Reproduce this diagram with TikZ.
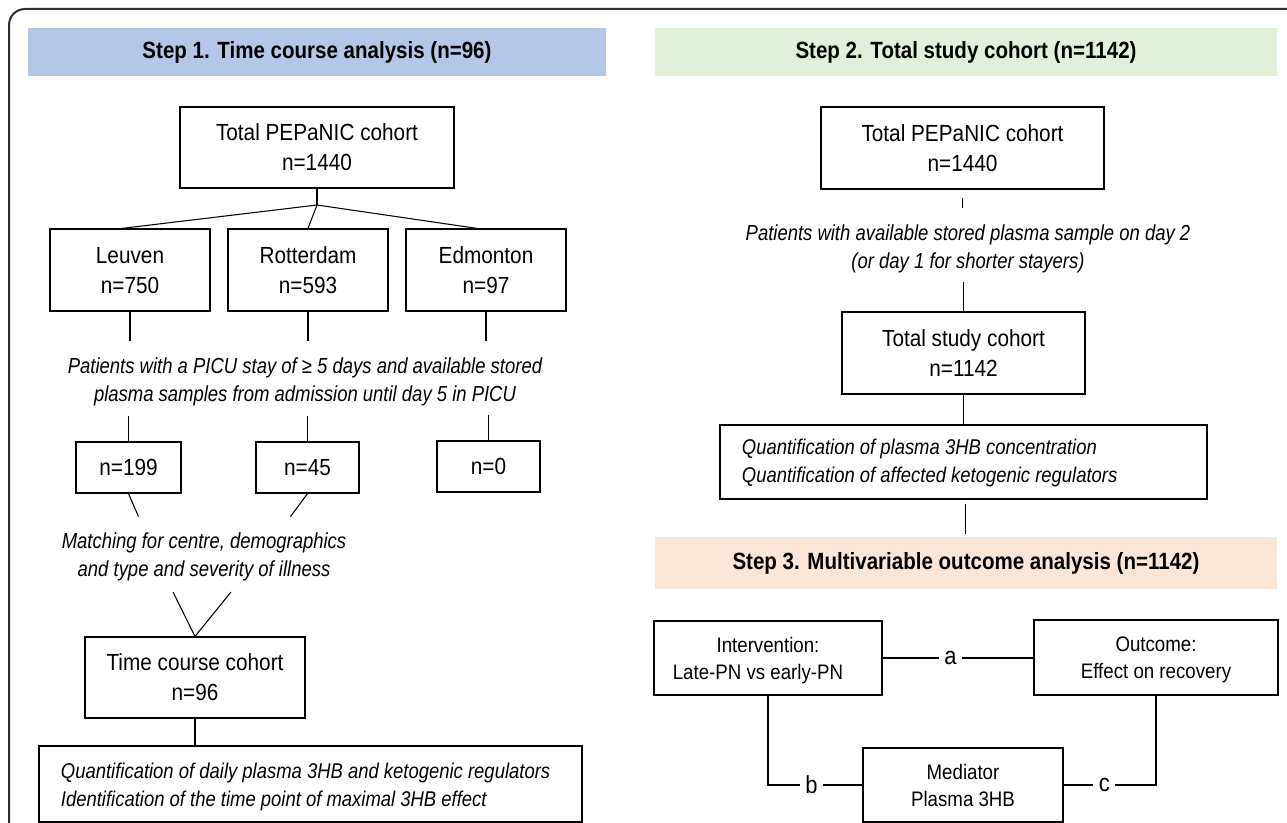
\documentclass[tikz,border=0pt]{standalone}
\usepackage{fontspec}
\setmainfont{Liberation Sans}[FakeStretch=0.89]
\newfontfamily\hdrfont{Liberation Sans}[FakeStretch=0.875]
\newfontfamily\critfont{Liberation Sans}[FakeStretch=0.85]
\newfontfamily\quantfont{Liberation Sans}[FakeStretch=0.865]
\usetikzlibrary{calc}
\definecolor{hblue}{RGB}{180,199,231}
\definecolor{hgreen}{RGB}{226,240,217}
\definecolor{hpeach}{RGB}{251,229,214}
\definecolor{framec}{RGB}{45,45,45}
\begin{document}
\begin{tikzpicture}[x=0.75pt,y=-0.75pt,
  line width=0.8pt,
  box/.style={draw, line width=0.9pt, inner sep=0pt, align=center, text depth=0pt,
    font=\fontsize{17.5pt}{22.5pt}\selectfont},
  boxc/.style={box, font=\fontsize{15.75pt}{20.25pt}\selectfont},
  hdr/.style={inner sep=0pt, font=\hdrfont\bfseries\fontsize{17.6pt}{20pt}\selectfont},
  crit/.style={inner sep=0pt, align=center, font=\critfont\itshape\fontsize{16.3pt}{21pt}\selectfont},
  qbox/.style={draw, line width=0.9pt, inner sep=0pt},
  qtext/.style={inner sep=0pt, align=left, anchor=west,
    font=\quantfont\itshape\fontsize{16pt}{21pt}\selectfont},
  lbl/.style={fill=white, inner xsep=4pt, inner ysep=1pt,
    font=\fontsize{18.5pt}{20pt}\selectfont},
]
\useasboundingbox (0,0) rectangle (1287,823);
\begin{scope}
\clip (0,0) rectangle (1287,823);
\draw[framec, line width=1.5pt, rounded corners=12] (9,9) rectangle (1310,850);
\end{scope}

% headers
\node[hdr, fill=hblue, minimum width={578*0.75pt}, minimum height={48*0.75pt}] (h1) at (317,52) {Step 1. Time course analysis (n=96)};
\node[hdr, fill=hgreen, minimum width={622*0.75pt}, minimum height={48*0.75pt}] (h2) at (966,52) {Step 2. Total study cohort (n=1142)};
\node[hdr, fill=hpeach, minimum width={622*0.75pt}, minimum height={52*0.75pt}] (h3) at (966,563) {Step 3. Multivariable outcome analysis (n=1142)};

% left column
\node[box, minimum width={274*0.75pt}, minimum height={81*0.75pt}] (pep1) at (317,147.5) {Total PEPaNIC cohort\\n=1440};
\node[box, minimum width={160*0.75pt}, minimum height={82*0.75pt}] (leu) at (130,270) {Leuven\\n=750};
\node[box, minimum width={160*0.75pt}, minimum height={82*0.75pt}] (rot) at (308,270) {Rotterdam\\n=593};
\node[box, minimum width={160*0.75pt}, minimum height={82*0.75pt}] (edm) at (486,270) {Edmonton\\n=97};
\node[crit] (c1) at (305,382) {Patients with a PICU stay of ≥ 5 days and available stored\\plasma samples from admission until day 5 in PICU};
\node[box, minimum width={105*0.75pt}, minimum height={51*0.75pt}] (n199) at (128.5,467.5) {n=199};
\node[box, minimum width={103*0.75pt}, minimum height={51*0.75pt}] (n45) at (307.5,467.5) {n=45};
\node[box, minimum width={103*0.75pt}, minimum height={51*0.75pt}] (n0) at (488.5,466.5) {n=0};
\node[crit] (m1) at (204,557) {Matching for centre, demographics\\and type and severity of illness};
\node[box, minimum width={220*0.75pt}, minimum height={81*0.75pt}] (tcc) at (195,677.5) {Time course cohort\\n=96};
\node[qbox, minimum width={543*0.75pt}, minimum height={76*0.75pt}] (q1) at (310.5,784) {};
\node[qtext] (q1t) at ($(q1.west)+(22,2.5)$) {Quantification of daily plasma 3HB and ketogenic regulators\\Identification of the time point of maximal 3HB effect};

\coordinate (fan) at (317,205);
\draw (pep1.south) -- (fan);
\draw (fan) -- ($(leu.north)+(-8,0)$);
\draw (fan) -- (rot.north);
\draw (fan) -- ($(edm.north)+(-9,0)$);
\draw (leu.south) -- ++(0,29);
\draw (rot.south) -- ++(0,29);
\draw (edm.south) -- ++(0,29);
\draw (n199.north) -- ++(0,-25);
\draw (n45.north) -- ++(0,-25);
\draw (n0.north) -- ++(0,-25);
\draw (n199.south) -- ++(10,23);
\draw (n45.south) -- ++(-17,23);
\coordinate (v1) at (173,592);
\coordinate (v2) at (231,592);
\draw (v1) -- (tcc.north) -- (v2);
\draw (tcc.south) -- (tcc.south |- q1.north);

% right column
\node[box, minimum width={283*0.75pt}, minimum height={82*0.75pt}] (pep2) at (962.5,148) {Total PEPaNIC cohort\\n=1440};
\node[crit] (c2) at (968,248.5) {Patients with available stored plasma sample on day 2\\(or day 1 for shorter stayers)};
\node[box, minimum width={243*0.75pt}, minimum height={82*0.75pt}] (tsc) at (963.5,353) {Total study cohort\\n=1142};
\node[qbox, minimum width={487*0.75pt}, minimum height={74*0.75pt}] (q2) at (963.5,462) {};
\node[qtext] (q2t) at ($(q2.west)+(22,0.5)$) {Quantification of plasma 3HB concentration\\Quantification of affected ketogenic regulators};

\draw ($(pep2.south)+(0,8)$) -- ++(0,10);
\draw ($(tsc.north)+(0,-29)$) -- (tsc.north);
\draw (tsc.south) -- (q2.north);
\draw ($(q2.south)+(2,4)$) -- ++(0,30);

% step 3
\node[boxc, minimum width={228*0.75pt}, minimum height={74*0.75pt}] (iv) at (768,658) {Intervention:\\Late-PN vs early-PN\hspace*{15pt}};
\node[boxc, minimum width={244*0.75pt}, minimum height={75*0.75pt}] (oc) at (1156,657.5) {Outcome:\\Effect on recovery};
\node[boxc, minimum width={200*0.75pt}, minimum height={74*0.75pt}] (md) at (963,785) {Mediator\\Plasma 3HB};

\draw (iv.east) -- node[lbl, pos=0.45] {a} (iv.east -| oc.west);
\draw (iv.south) |- node[lbl, pos=0.73] {b} (md.west);
\draw (md.east) -| node[lbl, pos=0.22] {c} (oc.south);
\end{tikzpicture}
\end{document}
